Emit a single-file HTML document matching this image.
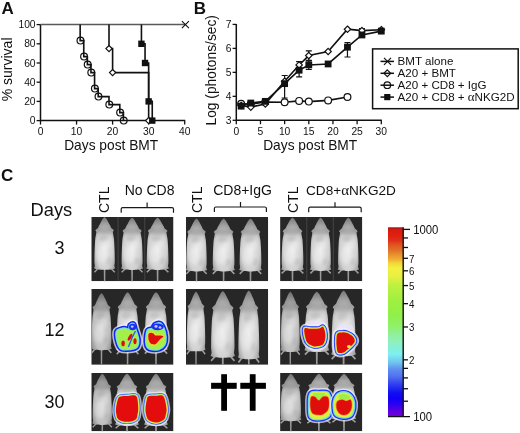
<!DOCTYPE html><html><head><meta charset="utf-8"><title>Figure</title><style>
html,body{margin:0;padding:0;background:#fff;width:520px;height:433px;overflow:hidden}
svg{display:block;will-change:transform} text{font-family:'Liberation Sans',sans-serif;fill:#111}
</style></head><body>
<svg width="520" height="433" viewBox="0 0 520 433">
<defs>
<radialGradient id="mg" cx="0.5" cy="0.6" r="0.6"><stop offset="0" stop-color="#e8e8e8"/><stop offset="0.65" stop-color="#d2d2d2"/><stop offset="1" stop-color="#9a9a9a"/></radialGradient>
<radialGradient id="mg2" cx="0.5" cy="0.6" r="0.6"><stop offset="0" stop-color="#d4d4d4"/><stop offset="0.65" stop-color="#c0c0c0"/><stop offset="1" stop-color="#8a8a8a"/></radialGradient>
<linearGradient id="mh" x1="0" y1="0" x2="0" y2="1"><stop offset="0" stop-color="#303030" stop-opacity="0.32"/><stop offset="0.18" stop-color="#505050" stop-opacity="0.2"/><stop offset="0.4" stop-color="#606060" stop-opacity="0"/></linearGradient>
<filter id="bl" x="-20%" y="-20%" width="140%" height="140%"><feGaussianBlur stdDeviation="0.65"/></filter>
<filter id="bh" x="-20%" y="-20%" width="140%" height="140%"><feGaussianBlur stdDeviation="0.6"/></filter>
<filter id="bt" x="-50%" y="-50%" width="200%" height="200%"><feGaussianBlur stdDeviation="1.6"/></filter>
<filter id="bl2" x="-20%" y="-20%" width="140%" height="140%"><feGaussianBlur stdDeviation="1.2"/></filter>
<linearGradient id="cb" x1="0" y1="0" x2="0" y2="1"><stop offset="0" stop-color="#a01010"/><stop offset="0.012" stop-color="#d81a10"/><stop offset="0.045" stop-color="#e02010"/><stop offset="0.07" stop-color="#e03018"/><stop offset="0.09" stop-color="#e05020"/><stop offset="0.12" stop-color="#e07028"/><stop offset="0.145" stop-color="#e89030"/><stop offset="0.17" stop-color="#f0b030"/><stop offset="0.19" stop-color="#f0d838"/><stop offset="0.215" stop-color="#f4f040"/><stop offset="0.26" stop-color="#e8f040"/><stop offset="0.305" stop-color="#c0f040"/><stop offset="0.385" stop-color="#a0f040"/><stop offset="0.465" stop-color="#90f048"/><stop offset="0.53" stop-color="#90f070"/><stop offset="0.57" stop-color="#90f0a0"/><stop offset="0.61" stop-color="#90f0c0"/><stop offset="0.65" stop-color="#80f0e0"/><stop offset="0.67" stop-color="#80f0f0"/><stop offset="0.715" stop-color="#70c4f0"/><stop offset="0.75" stop-color="#6090f0"/><stop offset="0.79" stop-color="#5070f0"/><stop offset="0.83" stop-color="#3040f0"/><stop offset="0.875" stop-color="#1010f0"/><stop offset="0.905" stop-color="#1000f8"/><stop offset="0.94" stop-color="#3000f0"/><stop offset="0.975" stop-color="#6000e0"/><stop offset="1" stop-color="#7000d8"/></linearGradient>
<path id="mouse" d="M0.4,0C0.8,0.26 1.37,0.71 2,1.59C2.63,2.47 3.53,4.15 4.2,5.3C4.87,6.45 5.53,7.6 6,8.48C6.47,9.36 6.53,10.03 7,10.6C7.47,11.17 8.33,11.48 8.8,11.93C9.27,12.37 9.8,12.81 9.8,13.25C9.8,13.69 8.93,14.05 8.8,14.58C8.67,15.11 8.82,15.33 9,16.43C9.18,17.53 9.68,19.52 9.9,21.2C10.12,22.88 10.18,24.56 10.3,26.5C10.42,28.44 10.52,30.65 10.6,32.86C10.68,35.07 10.77,37.63 10.8,39.75C10.83,41.87 10.87,44.08 10.8,45.58C10.73,47.08 10.4,47.97 10.4,48.76C10.4,49.56 10.67,49.91 10.8,50.35C10.93,50.79 11.4,51.13 11.2,51.41C11,51.69 10.3,51.85 9.6,52.05C8.9,52.24 8.27,52.42 7,52.58C5.73,52.73 3.5,52.93 2,53C0.5,53.07 -0.5,53.07 -2,53C-3.5,52.93 -5.73,52.73 -7,52.58C-8.27,52.42 -8.9,52.24 -9.6,52.05C-10.3,51.85 -11,51.69 -11.2,51.41C-11.4,51.13 -10.93,50.79 -10.8,50.35C-10.67,49.91 -10.4,49.56 -10.4,48.76C-10.4,47.97 -10.73,47.08 -10.8,45.58C-10.87,44.08 -10.83,41.87 -10.8,39.75C-10.77,37.63 -10.68,35.07 -10.6,32.86C-10.52,30.65 -10.42,28.44 -10.3,26.5C-10.18,24.56 -10.12,22.88 -9.9,21.2C-9.68,19.52 -9.18,17.53 -9,16.43C-8.82,15.33 -8.67,15.11 -8.8,14.58C-8.93,14.05 -9.8,13.69 -9.8,13.25C-9.8,12.81 -9.27,12.37 -8.8,11.93C-8.33,11.48 -7.47,11.17 -7,10.6C-6.53,10.03 -6.47,9.36 -6,8.48C-5.53,7.6 -4.87,6.45 -4.2,5.3C-3.53,4.15 -2.63,2.47 -2,1.59C-1.37,0.71 -0.8,0.26 -0.4,0C-0,-0.26 0,-0.26 0.4,0Z"/>
<clipPath id="mclip"><path d="M0.4,0C0.8,0.26 1.37,0.71 2,1.59C2.63,2.47 3.53,4.15 4.2,5.3C4.87,6.45 5.53,7.6 6,8.48C6.47,9.36 6.53,10.03 7,10.6C7.47,11.17 8.33,11.48 8.8,11.93C9.27,12.37 9.8,12.81 9.8,13.25C9.8,13.69 8.93,14.05 8.8,14.58C8.67,15.11 8.82,15.33 9,16.43C9.18,17.53 9.68,19.52 9.9,21.2C10.12,22.88 10.18,24.56 10.3,26.5C10.42,28.44 10.52,30.65 10.6,32.86C10.68,35.07 10.77,37.63 10.8,39.75C10.83,41.87 10.87,44.08 10.8,45.58C10.73,47.08 10.4,47.97 10.4,48.76C10.4,49.56 10.67,49.91 10.8,50.35C10.93,50.79 11.4,51.13 11.2,51.41C11,51.69 10.3,51.85 9.6,52.05C8.9,52.24 8.27,52.42 7,52.58C5.73,52.73 3.5,52.93 2,53C0.5,53.07 -0.5,53.07 -2,53C-3.5,52.93 -5.73,52.73 -7,52.58C-8.27,52.42 -8.9,52.24 -9.6,52.05C-10.3,51.85 -11,51.69 -11.2,51.41C-11.4,51.13 -10.93,50.79 -10.8,50.35C-10.67,49.91 -10.4,49.56 -10.4,48.76C-10.4,47.97 -10.73,47.08 -10.8,45.58C-10.87,44.08 -10.83,41.87 -10.8,39.75C-10.77,37.63 -10.68,35.07 -10.6,32.86C-10.52,30.65 -10.42,28.44 -10.3,26.5C-10.18,24.56 -10.12,22.88 -9.9,21.2C-9.68,19.52 -9.18,17.53 -9,16.43C-8.82,15.33 -8.67,15.11 -8.8,14.58C-8.93,14.05 -9.8,13.69 -9.8,13.25C-9.8,12.81 -9.27,12.37 -8.8,11.93C-8.33,11.48 -7.47,11.17 -7,10.6C-6.53,10.03 -6.47,9.36 -6,8.48C-5.53,7.6 -4.87,6.45 -4.2,5.3C-3.53,4.15 -2.63,2.47 -2,1.59C-1.37,0.71 -0.8,0.26 -0.4,0C-0,-0.26 0,-0.26 0.4,0Z"/></clipPath>
<g id="mtex"><ellipse cx="0" cy="13.5" rx="9" ry="3.5" fill="#6a6a6a" opacity="0.3"/><ellipse cx="-1" cy="21" rx="5" ry="3" fill="#7a7a7a" opacity="0.25"/><ellipse cx="-2.5" cy="37" rx="5.5" ry="9" fill="#fff" opacity="0.28"/><ellipse cx="3.5" cy="27" rx="3.5" ry="5" fill="#fff" opacity="0.22"/><ellipse cx="5" cy="44" rx="3" ry="4" fill="#8a8a8a" opacity="0.2"/></g>
</defs>
<text x="1.4" y="13.6" style="font-weight:bold;font-size:17px">A</text>
<text x="1.6" y="13.6" transform="translate(2000,0)"> </text>
<path d="M40.5,24.3V120.6H185.2" fill="none" stroke="#111" stroke-width="1.5"/>
<path d="M36.6,120.6H40.5" stroke="#111" stroke-width="1.3"/>
<text x="35.6" y="124.1" text-anchor="end" style="font-size:10.3px">0</text>
<path d="M36.6,101.4H40.5" stroke="#111" stroke-width="1.3"/>
<text x="35.6" y="104.9" text-anchor="end" style="font-size:10.3px">20</text>
<path d="M36.6,82.2H40.5" stroke="#111" stroke-width="1.3"/>
<text x="35.6" y="85.7" text-anchor="end" style="font-size:10.3px">40</text>
<path d="M36.6,63H40.5" stroke="#111" stroke-width="1.3"/>
<text x="35.6" y="66.5" text-anchor="end" style="font-size:10.3px">60</text>
<path d="M36.6,43.8H40.5" stroke="#111" stroke-width="1.3"/>
<text x="35.6" y="47.3" text-anchor="end" style="font-size:10.3px">80</text>
<path d="M36.6,24.6H40.5" stroke="#111" stroke-width="1.3"/>
<text x="35.6" y="28.1" text-anchor="end" style="font-size:10.3px">100</text>
<path d="M40.5,120.6V124.6" stroke="#111" stroke-width="1.3"/>
<text x="40.5" y="134.6" text-anchor="middle" style="font-size:10.3px">0</text>
<path d="M76.55,120.6V124.6" stroke="#111" stroke-width="1.3"/>
<text x="76.55" y="134.6" text-anchor="middle" style="font-size:10.3px">10</text>
<path d="M112.6,120.6V124.6" stroke="#111" stroke-width="1.3"/>
<text x="112.6" y="134.6" text-anchor="middle" style="font-size:10.3px">20</text>
<path d="M148.65,120.6V124.6" stroke="#111" stroke-width="1.3"/>
<text x="148.65" y="134.6" text-anchor="middle" style="font-size:10.3px">30</text>
<path d="M184.7,120.6V124.6" stroke="#111" stroke-width="1.3"/>
<text x="184.7" y="134.6" text-anchor="middle" style="font-size:10.3px">40</text>
<text x="64.2" y="150.4" style="font-size:13.75px">Days post BMT</text>
<text transform="translate(11.6,101.3) rotate(-90)" style="font-size:14px">% survival</text>
<path d="M40.5,24.6H185.3" stroke="#5a5a5a" stroke-width="1.5" fill="none"/>
<path d="M181.9,21.1l7,7M181.9,28.1l7,-7" stroke="#111" stroke-width="1.1"/>
<path d="M80.16,24.6H80.16V40.6H83.76V56.6H87.37V64.6H90.97V72.6H94.58V88.6H98.18V96.6H109V104.6H119.81V112.6H123.42V120.6" stroke="#111" stroke-width="1.6" fill="none"/>
<circle cx="80.45" cy="40.6" r="3.4" fill="none" stroke="#111" stroke-width="1.2"/>
<circle cx="84.06" cy="56.6" r="3.4" fill="none" stroke="#111" stroke-width="1.2"/>
<circle cx="87.67" cy="64.6" r="3.4" fill="none" stroke="#111" stroke-width="1.2"/>
<circle cx="91.27" cy="72.6" r="3.4" fill="none" stroke="#111" stroke-width="1.2"/>
<circle cx="94.88" cy="88.6" r="3.4" fill="none" stroke="#111" stroke-width="1.2"/>
<circle cx="98.48" cy="96.6" r="3.4" fill="none" stroke="#111" stroke-width="1.2"/>
<circle cx="109.3" cy="104.6" r="3.4" fill="none" stroke="#111" stroke-width="1.2"/>
<circle cx="120.11" cy="112.6" r="3.4" fill="none" stroke="#111" stroke-width="1.2"/>
<circle cx="123.72" cy="120.6" r="3.4" fill="none" stroke="#111" stroke-width="1.2"/>
<path d="M109,24.6H109V48.6H112.6V72.6H148.65V120.6" stroke="#111" stroke-width="1.6" fill="none"/>
<path d="M109,45.5l3.1,3.1l-3.1,3.1l-3.1,-3.1z" fill="#fff" stroke="#111" stroke-width="1.2"/>
<path d="M112.6,69.5l3.1,3.1l-3.1,3.1l-3.1,-3.1z" fill="#fff" stroke="#111" stroke-width="1.2"/>
<path d="M148.65,117.5l3.1,3.1l-3.1,3.1l-3.1,-3.1z" fill="#fff" stroke="#111" stroke-width="1.2"/>
<path d="M141.44,24.6H141.44V43.8H145.05V63H148.65V101.4H152.25V120.6" stroke="#111" stroke-width="1.6" fill="none"/>
<rect x="138.24" y="40.6" width="6.4" height="6.4" fill="#111"/>
<rect x="141.85" y="59.8" width="6.4" height="6.4" fill="#111"/>
<rect x="145.45" y="98.2" width="6.4" height="6.4" fill="#111"/>
<rect x="149.06" y="117.4" width="6.4" height="6.4" fill="#111"/>
<text x="193.8" y="13.6" style="font-weight:bold;font-size:17px">B</text>
<path d="M236.3,24.12V120.3H381.79" fill="none" stroke="#111" stroke-width="1.5"/>
<path d="M232.6,120.3H236.3" stroke="#111" stroke-width="1.3"/>
<text x="231.4" y="123.8" text-anchor="end" style="font-size:10.3px">3</text>
<path d="M232.6,96.33H236.3" stroke="#111" stroke-width="1.3"/>
<text x="231.4" y="99.83" text-anchor="end" style="font-size:10.3px">4</text>
<path d="M232.6,72.36H236.3" stroke="#111" stroke-width="1.3"/>
<text x="231.4" y="75.86" text-anchor="end" style="font-size:10.3px">5</text>
<path d="M232.6,48.39H236.3" stroke="#111" stroke-width="1.3"/>
<text x="231.4" y="51.89" text-anchor="end" style="font-size:10.3px">6</text>
<path d="M232.6,24.42H236.3" stroke="#111" stroke-width="1.3"/>
<text x="231.4" y="27.92" text-anchor="end" style="font-size:10.3px">7</text>
<path d="M236.3,120.3V124.2" stroke="#111" stroke-width="1.3"/>
<text x="236.3" y="134.7" text-anchor="middle" style="font-size:10.3px">0</text>
<path d="M260.47,120.3V124.2" stroke="#111" stroke-width="1.3"/>
<text x="260.47" y="134.7" text-anchor="middle" style="font-size:10.3px">5</text>
<path d="M284.63,120.3V124.2" stroke="#111" stroke-width="1.3"/>
<text x="284.63" y="134.7" text-anchor="middle" style="font-size:10.3px">10</text>
<path d="M308.8,120.3V124.2" stroke="#111" stroke-width="1.3"/>
<text x="308.8" y="134.7" text-anchor="middle" style="font-size:10.3px">15</text>
<path d="M332.96,120.3V124.2" stroke="#111" stroke-width="1.3"/>
<text x="332.96" y="134.7" text-anchor="middle" style="font-size:10.3px">20</text>
<path d="M357.12,120.3V124.2" stroke="#111" stroke-width="1.3"/>
<text x="357.12" y="134.7" text-anchor="middle" style="font-size:10.3px">25</text>
<path d="M381.29,120.3V124.2" stroke="#111" stroke-width="1.3"/>
<text x="381.29" y="134.7" text-anchor="middle" style="font-size:10.3px">30</text>
<text x="263.2" y="150.4" style="font-size:13.75px">Days post BMT</text>
<text transform="translate(215.9,125.5) rotate(-90)" style="font-size:13.8px">Log (photons/sec)</text>
<path d="M284.63,75.48V98.01M281.63,75.48h6M281.63,98.01h6" stroke="#111" stroke-width="1.2" fill="none"/>
<path d="M299.13,61.57V76.91M296.13,61.57h6M296.13,76.91h6" stroke="#111" stroke-width="1.2" fill="none"/>
<path d="M308.8,50.79V60.38M305.8,50.79h6M305.8,60.38h6" stroke="#111" stroke-width="1.2" fill="none"/>
<path d="M308.8,60.85V69.48M305.8,60.85h6M305.8,69.48h6" stroke="#111" stroke-width="1.2" fill="none"/>
<path d="M347.46,42.64V57.02M344.46,42.64h6M344.46,57.02h6" stroke="#111" stroke-width="1.2" fill="none"/>
<path d="M361.96,28.49V34.97M358.96,28.49h6M358.96,34.97h6" stroke="#111" stroke-width="1.2" fill="none"/>
<path d="M241.13,103.76L250.8,104L265.3,102.08L284.63,102.32L299.13,100.88L308.8,101.6L328.13,100.4L347.46,97.05" stroke="#111" stroke-width="1.6" fill="none"/>
<path d="M241.13,105.44L250.8,107.12L265.3,104L284.63,81.23L299.13,64.93L308.8,55.58L328.13,51.51L347.46,29.21L361.96,30.65L381.29,29.69" stroke="#111" stroke-width="1.6" fill="none"/>
<path d="M241.13,106.16L250.8,103.04L265.3,101.36L284.63,83.63L299.13,70.2L308.8,64.93L328.13,63.97L347.46,47.19L361.96,34.97L381.29,31.13" stroke="#111" stroke-width="1.6" fill="none"/>
<circle cx="241.13" cy="103.76" r="3.4" fill="#fff" stroke="#111" stroke-width="1.2"/>
<circle cx="250.8" cy="104" r="3.4" fill="#fff" stroke="#111" stroke-width="1.2"/>
<circle cx="265.3" cy="102.08" r="3.4" fill="#fff" stroke="#111" stroke-width="1.2"/>
<circle cx="284.63" cy="102.32" r="3.4" fill="#fff" stroke="#111" stroke-width="1.2"/>
<circle cx="299.13" cy="100.88" r="3.4" fill="#fff" stroke="#111" stroke-width="1.2"/>
<circle cx="308.8" cy="101.6" r="3.4" fill="#fff" stroke="#111" stroke-width="1.2"/>
<circle cx="328.13" cy="100.4" r="3.4" fill="#fff" stroke="#111" stroke-width="1.2"/>
<circle cx="347.46" cy="97.05" r="3.4" fill="#fff" stroke="#111" stroke-width="1.2"/>
<path d="M241.13,102.24l3.2,3.2l-3.2,3.2l-3.2,-3.2z" fill="#fff" stroke="#111" stroke-width="1.2"/>
<path d="M250.8,103.92l3.2,3.2l-3.2,3.2l-3.2,-3.2z" fill="#fff" stroke="#111" stroke-width="1.2"/>
<path d="M265.3,100.8l3.2,3.2l-3.2,3.2l-3.2,-3.2z" fill="#fff" stroke="#111" stroke-width="1.2"/>
<path d="M284.63,78.03l3.2,3.2l-3.2,3.2l-3.2,-3.2z" fill="#fff" stroke="#111" stroke-width="1.2"/>
<path d="M299.13,61.73l3.2,3.2l-3.2,3.2l-3.2,-3.2z" fill="#fff" stroke="#111" stroke-width="1.2"/>
<path d="M308.8,52.38l3.2,3.2l-3.2,3.2l-3.2,-3.2z" fill="#fff" stroke="#111" stroke-width="1.2"/>
<path d="M328.13,48.31l3.2,3.2l-3.2,3.2l-3.2,-3.2z" fill="#fff" stroke="#111" stroke-width="1.2"/>
<path d="M347.46,26.01l3.2,3.2l-3.2,3.2l-3.2,-3.2z" fill="#fff" stroke="#111" stroke-width="1.2"/>
<path d="M361.96,27.45l3.2,3.2l-3.2,3.2l-3.2,-3.2z" fill="#fff" stroke="#111" stroke-width="1.2"/>
<path d="M381.29,26.49l3.2,3.2l-3.2,3.2l-3.2,-3.2z" fill="#fff" stroke="#111" stroke-width="1.2"/>
<rect x="237.73" y="102.76" width="6.8" height="6.8" fill="#111"/>
<rect x="247.4" y="99.64" width="6.8" height="6.8" fill="#111"/>
<rect x="261.9" y="97.96" width="6.8" height="6.8" fill="#111"/>
<rect x="281.23" y="80.23" width="6.8" height="6.8" fill="#111"/>
<rect x="295.73" y="66.8" width="6.8" height="6.8" fill="#111"/>
<rect x="305.4" y="61.53" width="6.8" height="6.8" fill="#111"/>
<rect x="324.73" y="60.57" width="6.8" height="6.8" fill="#111"/>
<rect x="344.06" y="43.79" width="6.8" height="6.8" fill="#111"/>
<rect x="358.56" y="31.57" width="6.8" height="6.8" fill="#111"/>
<rect x="377.89" y="27.73" width="6.8" height="6.8" fill="#111"/>
<rect x="372.6" y="48.9" width="145.6" height="59.8" fill="#fff" stroke="#111" stroke-width="1.5"/>
<path d="M380.5,61.4H394" stroke="#111" stroke-width="1.5"/>
<path d="M384,57.9l7,7M384,64.9l7,-7" stroke="#111" stroke-width="1.2"/>
<text x="397.6" y="65.4" style="font-size:11.6px">BMT alone</text>
<path d="M380.5,73.3H394" stroke="#111" stroke-width="1.5"/>
<path d="M387.3,69.9l3.4,3.4l-3.4,3.4l-3.4,-3.4z" fill="none" stroke="#111" stroke-width="1.2"/>
<text x="397.6" y="77.3" style="font-size:11.6px">A20 + BMT</text>
<path d="M380.5,85.2H394" stroke="#111" stroke-width="1.5"/>
<circle cx="387.3" cy="85.2" r="3.3" fill="none" stroke="#111" stroke-width="1.2"/>
<text x="397.6" y="89.2" style="font-size:11.6px">A20 + CD8 + IgG</text>
<path d="M380.5,97.1H394" stroke="#111" stroke-width="1.5"/>
<rect x="384.2" y="94" width="6.2" height="6.2" fill="#111"/>
<text x="397.6" y="101.1" style="font-size:11.6px">A20 + CD8 + <tspan style="font-family:'Liberation Serif',serif;font-size:12.9px">&#945;</tspan>NKG2D</text>
<text x="1.0" y="181.2" style="font-weight:bold;font-size:17px">C</text>
<text x="30.6" y="215.8" style="font-size:18.3px">Days</text>
<text x="59.6" y="254.2" text-anchor="middle" style="font-size:18px">3</text>
<text x="54.4" y="335.9" text-anchor="middle" style="font-size:18px">12</text>
<text x="54.4" y="408.3" text-anchor="middle" style="font-size:18px">30</text>
<text transform="translate(109.4,213.0) rotate(-90)" style="font-size:14px">CTL</text>
<text x="124.7" y="195" style="font-size:14px">No CD8</text>
<text transform="translate(202.2,213.0) rotate(-90)" style="font-size:14px">CTL</text>
<text x="213.2" y="195" style="font-size:14px">CD8+IgG</text>
<text transform="translate(298.2,213.0) rotate(-90)" style="font-size:14px">CTL</text>
<text x="306" y="195" style="font-size:13.6px">CD8+<tspan style="font-family:'Liberation Serif',serif;font-size:15px">&#945;</tspan>NKG2D</text>
<path d="M121.2,212.7v-3.6q0,-1.5 1.5,-1.5H172q1.5,0 1.5,1.5v3.6M147.1,207.6v-5" fill="none" stroke="#1a1a1a" stroke-width="1.2"/>
<path d="M214.4,212.1v-3.6q0,-1.5 1.5,-1.5H264.9q1.5,0 1.5,1.5v3.6M240.5,207v-5" fill="none" stroke="#1a1a1a" stroke-width="1.2"/>
<path d="M308.7,212.3v-3.6q0,-1.5 1.5,-1.5H359.7q1.5,0 1.5,1.5v3.6M335,207.2v-5" fill="none" stroke="#1a1a1a" stroke-width="1.2"/>
<clipPath id="c00"><rect x="91.3" y="217" width="82.2" height="64.2"/></clipPath>
<g clip-path="url(#c00)">
<rect x="91.3" y="217" width="82.2" height="64.2" fill="#272727"/>
<path d="M118.1,217V281.2" stroke="#454545" stroke-width="1"/>
<path d="M144.8,217V281.2" stroke="#454545" stroke-width="1"/>
<g filter="url(#bl)">
<g transform="translate(104.6,217.4) scale(0.94,0.99)"><path d="M-0.9,52 L-0.7,66 L0.7,66 L0.9,52Z" fill="#9a9a9a"/><path d="M6.5,51.2L10.8,55.4M-6.5,51.2L-10.8,55.4" stroke="#a0a0a0" stroke-width="1.5" fill="none"/><use href="#mouse" fill="url(#mg)"/><use href="#mouse" fill="url(#mh)"/><g clip-path="url(#mclip)"><use href="#mtex" filter="url(#bt)"/></g></g>
<g transform="translate(132.1,218) scale(0.97,0.98)"><path d="M-0.9,52 L-0.7,66 L0.7,66 L0.9,52Z" fill="#9a9a9a"/><path d="M6.5,51.2L10.8,55.4M-6.5,51.2L-10.8,55.4" stroke="#a0a0a0" stroke-width="1.5" fill="none"/><use href="#mouse" fill="url(#mg)"/><use href="#mouse" fill="url(#mh)"/><g clip-path="url(#mclip)"><use href="#mtex" filter="url(#bt)"/></g></g>
<g transform="translate(157.6,218) scale(1,0.98)"><path d="M-0.9,52 L-0.7,66 L0.7,66 L0.9,52Z" fill="#9a9a9a"/><path d="M6.5,51.2L10.8,55.4M-6.5,51.2L-10.8,55.4" stroke="#a0a0a0" stroke-width="1.5" fill="none"/><use href="#mouse" fill="url(#mg)"/><use href="#mouse" fill="url(#mh)"/><g clip-path="url(#mclip)"><use href="#mtex" filter="url(#bt)"/></g></g>
</g>

</g>
<clipPath id="c01"><rect x="186" y="217" width="82.2" height="64.2"/></clipPath>
<g clip-path="url(#c01)">
<rect x="186" y="217" width="82.2" height="64.2" fill="#272727"/>
<g filter="url(#bl)">
<g transform="translate(196.5,219) scale(0.94,0.99)"><path d="M-0.9,52 L-0.7,66 L0.7,66 L0.9,52Z" fill="#9a9a9a"/><path d="M6.5,51.2L10.8,55.4M-6.5,51.2L-10.8,55.4" stroke="#a0a0a0" stroke-width="1.5" fill="none"/><use href="#mouse" fill="url(#mg)"/><use href="#mouse" fill="url(#mh)"/><g clip-path="url(#mclip)"><use href="#mtex" filter="url(#bt)"/></g></g>
<g transform="translate(223.6,219) scale(1,0.99)"><path d="M-0.9,52 L-0.7,66 L0.7,66 L0.9,52Z" fill="#9a9a9a"/><path d="M6.5,51.2L10.8,55.4M-6.5,51.2L-10.8,55.4" stroke="#a0a0a0" stroke-width="1.5" fill="none"/><use href="#mouse" fill="url(#mg)"/><use href="#mouse" fill="url(#mh)"/><g clip-path="url(#mclip)"><use href="#mtex" filter="url(#bt)"/></g></g>
<g transform="translate(250.5,219) scale(1,0.99)"><path d="M-0.9,52 L-0.7,66 L0.7,66 L0.9,52Z" fill="#9a9a9a"/><path d="M6.5,51.2L10.8,55.4M-6.5,51.2L-10.8,55.4" stroke="#a0a0a0" stroke-width="1.5" fill="none"/><use href="#mouse" fill="url(#mg)"/><use href="#mouse" fill="url(#mh)"/><g clip-path="url(#mclip)"><use href="#mtex" filter="url(#bt)"/></g></g>
</g>

</g>
<clipPath id="c02"><rect x="280.1" y="217" width="82.2" height="64.2"/></clipPath>
<g clip-path="url(#c02)">
<rect x="280.1" y="217" width="82.2" height="64.2" fill="#272727"/>
<path d="M306.8,217V281.2" stroke="#454545" stroke-width="1"/>
<path d="M333.3,217V281.2" stroke="#454545" stroke-width="1"/>
<g filter="url(#bl)">
<g transform="translate(292.5,218) scale(1,1)"><path d="M-0.9,52 L-0.7,66 L0.7,66 L0.9,52Z" fill="#9a9a9a"/><path d="M6.5,51.2L10.8,55.4M-6.5,51.2L-10.8,55.4" stroke="#a0a0a0" stroke-width="1.5" fill="none"/><use href="#mouse" fill="url(#mg)"/><use href="#mouse" fill="url(#mh)"/><g clip-path="url(#mclip)"><use href="#mtex" filter="url(#bt)"/></g></g>
<g transform="translate(320.6,218) scale(0.94,1)"><path d="M-0.9,52 L-0.7,66 L0.7,66 L0.9,52Z" fill="#9a9a9a"/><path d="M6.5,51.2L10.8,55.4M-6.5,51.2L-10.8,55.4" stroke="#a0a0a0" stroke-width="1.5" fill="none"/><use href="#mouse" fill="url(#mg)"/><use href="#mouse" fill="url(#mh)"/><g clip-path="url(#mclip)"><use href="#mtex" filter="url(#bt)"/></g></g>
<g transform="translate(348.3,218) scale(0.94,1)"><path d="M-0.9,52 L-0.7,66 L0.7,66 L0.9,52Z" fill="#9a9a9a"/><path d="M6.5,51.2L10.8,55.4M-6.5,51.2L-10.8,55.4" stroke="#a0a0a0" stroke-width="1.5" fill="none"/><use href="#mouse" fill="url(#mg)"/><use href="#mouse" fill="url(#mh)"/><g clip-path="url(#mclip)"><use href="#mtex" filter="url(#bt)"/></g></g>
</g>

</g>
<clipPath id="c10"><rect x="91.3" y="289" width="82.2" height="75.8"/></clipPath>
<g clip-path="url(#c10)">
<rect x="91.3" y="289" width="82.2" height="75.8" fill="#272727"/>
<g filter="url(#bl)">
<g transform="translate(101.5,293.6) scale(0.91,1.07)"><path d="M-0.9,52 L-0.7,66 L0.7,66 L0.9,52Z" fill="#9a9a9a"/><path d="M6.5,51.2L10.8,55.4M-6.5,51.2L-10.8,55.4" stroke="#a0a0a0" stroke-width="1.5" fill="none"/><use href="#mouse" fill="url(#mg2)"/><use href="#mouse" fill="url(#mh)"/><g clip-path="url(#mclip)"><use href="#mtex" filter="url(#bt)"/></g></g>
<g transform="translate(127.6,292.6) scale(1,1.11)"><path d="M-0.9,52 L-0.7,66 L0.7,66 L0.9,52Z" fill="#9a9a9a"/><path d="M6.5,51.2L10.8,55.4M-6.5,51.2L-10.8,55.4" stroke="#a0a0a0" stroke-width="1.5" fill="none"/><use href="#mouse" fill="url(#mg)"/><use href="#mouse" fill="url(#mh)"/><g clip-path="url(#mclip)"><use href="#mtex" filter="url(#bt)"/></g></g>
<g transform="translate(156,292.6) scale(1.03,1.1)"><path d="M-0.9,52 L-0.7,66 L0.7,66 L0.9,52Z" fill="#9a9a9a"/><path d="M6.5,51.2L10.8,55.4M-6.5,51.2L-10.8,55.4" stroke="#a0a0a0" stroke-width="1.5" fill="none"/><use href="#mouse" fill="url(#mg)"/><use href="#mouse" fill="url(#mh)"/><g clip-path="url(#mclip)"><use href="#mtex" filter="url(#bt)"/></g></g>
</g>
<g filter="url(#bh)"><path d="M116.6,332C117.12,329.9 119.22,329.77 120.7,329.2C122.18,328.63 124.1,328.43 125.5,328.6C126.9,328.77 128.35,330.77 129.1,330.2C129.85,329.63 129.25,326.23 130,325.2C130.75,324.17 132.7,323.23 133.6,324C134.5,324.77 134.63,327.22 135.4,329.8C136.17,332.38 138,336.63 138.2,339.5C138.4,342.37 137.92,345.42 136.6,347C135.28,348.58 132.85,348.73 130.3,349C127.75,349.27 123.42,349.8 121.3,348.6C119.18,347.4 118.38,344.57 117.6,341.8C116.82,339.03 116.08,334.1 116.6,332Z" fill="none" stroke="#f2eefc" stroke-width="8.5" stroke-linejoin="round" opacity="0.75"/><path d="M116.6,332C117.12,329.9 119.22,329.77 120.7,329.2C122.18,328.63 124.1,328.43 125.5,328.6C126.9,328.77 128.35,330.77 129.1,330.2C129.85,329.63 129.25,326.23 130,325.2C130.75,324.17 132.7,323.23 133.6,324C134.5,324.77 134.63,327.22 135.4,329.8C136.17,332.38 138,336.63 138.2,339.5C138.4,342.37 137.92,345.42 136.6,347C135.28,348.58 132.85,348.73 130.3,349C127.75,349.27 123.42,349.8 121.3,348.6C119.18,347.4 118.38,344.57 117.6,341.8C116.82,339.03 116.08,334.1 116.6,332Z" fill="none" stroke="#1424ee" stroke-width="5.4" stroke-linejoin="round"/><path d="M116.6,332C117.12,329.9 119.22,329.77 120.7,329.2C122.18,328.63 124.1,328.43 125.5,328.6C126.9,328.77 128.35,330.77 129.1,330.2C129.85,329.63 129.25,326.23 130,325.2C130.75,324.17 132.7,323.23 133.6,324C134.5,324.77 134.63,327.22 135.4,329.8C136.17,332.38 138,336.63 138.2,339.5C138.4,342.37 137.92,345.42 136.6,347C135.28,348.58 132.85,348.73 130.3,349C127.75,349.27 123.42,349.8 121.3,348.6C119.18,347.4 118.38,344.57 117.6,341.8C116.82,339.03 116.08,334.1 116.6,332Z" fill="none" stroke="#70e0e0" stroke-width="2.4" stroke-linejoin="round"/><path d="M116.6,332C117.12,329.9 119.22,329.77 120.7,329.2C122.18,328.63 124.1,328.43 125.5,328.6C126.9,328.77 128.35,330.77 129.1,330.2C129.85,329.63 129.25,326.23 130,325.2C130.75,324.17 132.7,323.23 133.6,324C134.5,324.77 134.63,327.22 135.4,329.8C136.17,332.38 138,336.63 138.2,339.5C138.4,342.37 137.92,345.42 136.6,347C135.28,348.58 132.85,348.73 130.3,349C127.75,349.27 123.42,349.8 121.3,348.6C119.18,347.4 118.38,344.57 117.6,341.8C116.82,339.03 116.08,334.1 116.6,332Z" fill="#a4f04c"/><ellipse cx="132.6" cy="327" rx="3.6" ry="3.2" fill="#1830f0"/><ellipse cx="132.2" cy="326.6" rx="1.4" ry="1.2" fill="#c8c0f8"/><path d="M128.4,347L132.6,336.6L135.5,331" stroke="#3060f0" stroke-width="1.4" fill="none"/><ellipse cx="123.1" cy="343.4" rx="1.8" ry="2.8" fill="#e01010"/><ellipse cx="130" cy="337.2" rx="1.5" ry="3.8" fill="#e01010" transform="rotate(30 130 337.2)"/><ellipse cx="135" cy="341.2" rx="1.6" ry="3" fill="#e01010"/><path d="M146.2,338.3C146.4,335.83 146.78,331.82 147.8,330.2C148.82,328.58 151.1,329.53 152.3,328.6C153.5,327.67 153.7,325.47 155,324.6C156.3,323.73 158.7,322.83 160.1,323.4C161.5,323.97 162.48,325.72 163.4,328C164.32,330.28 165.43,334.33 165.6,337.1C165.77,339.87 165.52,342.62 164.4,344.6C163.28,346.58 161.42,348.33 158.9,349C156.38,349.67 151.35,349.27 149.3,348.6C147.25,347.93 147.12,346.72 146.6,345C146.08,343.28 146,340.77 146.2,338.3Z" fill="none" stroke="#f2eefc" stroke-width="8.5" stroke-linejoin="round" opacity="0.75"/><path d="M146.2,338.3C146.4,335.83 146.78,331.82 147.8,330.2C148.82,328.58 151.1,329.53 152.3,328.6C153.5,327.67 153.7,325.47 155,324.6C156.3,323.73 158.7,322.83 160.1,323.4C161.5,323.97 162.48,325.72 163.4,328C164.32,330.28 165.43,334.33 165.6,337.1C165.77,339.87 165.52,342.62 164.4,344.6C163.28,346.58 161.42,348.33 158.9,349C156.38,349.67 151.35,349.27 149.3,348.6C147.25,347.93 147.12,346.72 146.6,345C146.08,343.28 146,340.77 146.2,338.3Z" fill="none" stroke="#1424ee" stroke-width="5.4" stroke-linejoin="round"/><path d="M146.2,338.3C146.4,335.83 146.78,331.82 147.8,330.2C148.82,328.58 151.1,329.53 152.3,328.6C153.5,327.67 153.7,325.47 155,324.6C156.3,323.73 158.7,322.83 160.1,323.4C161.5,323.97 162.48,325.72 163.4,328C164.32,330.28 165.43,334.33 165.6,337.1C165.77,339.87 165.52,342.62 164.4,344.6C163.28,346.58 161.42,348.33 158.9,349C156.38,349.67 151.35,349.27 149.3,348.6C147.25,347.93 147.12,346.72 146.6,345C146.08,343.28 146,340.77 146.2,338.3Z" fill="none" stroke="#70e0e0" stroke-width="2.4" stroke-linejoin="round"/><path d="M146.2,338.3C146.4,335.83 146.78,331.82 147.8,330.2C148.82,328.58 151.1,329.53 152.3,328.6C153.5,327.67 153.7,325.47 155,324.6C156.3,323.73 158.7,322.83 160.1,323.4C161.5,323.97 162.48,325.72 163.4,328C164.32,330.28 165.43,334.33 165.6,337.1C165.77,339.87 165.52,342.62 164.4,344.6C163.28,346.58 161.42,348.33 158.9,349C156.38,349.67 151.35,349.27 149.3,348.6C147.25,347.93 147.12,346.72 146.6,345C146.08,343.28 146,340.77 146.2,338.3Z" fill="#a4f04c"/><ellipse cx="157.6" cy="326.8" rx="6.2" ry="3.4" fill="#1830f0"/><ellipse cx="156" cy="326.4" rx="1.6" ry="1.3" fill="#c8c0f8"/><ellipse cx="160" cy="327.4" rx="1.4" ry="1.2" fill="#c8c0f8"/><path d="M148.4,334.6C148.73,333.48 149.77,333 150.6,332.8C151.43,332.6 152.6,332.97 153.4,333.4C154.2,333.83 154.37,335.03 155.4,335.4C156.43,335.77 158.27,335.43 159.6,335.6C160.93,335.77 163.27,335.83 163.4,336.4C163.53,336.97 161.57,337.83 160.4,339C159.23,340.17 157.53,342.5 156.4,343.4C155.27,344.3 154.6,344.43 153.6,344.4C152.6,344.37 151.23,344.02 150.4,343.2C149.57,342.38 148.93,340.93 148.6,339.5C148.27,338.07 148.07,335.72 148.4,334.6Z" fill="none" stroke="#f0d838" stroke-width="2.4" stroke-linejoin="round"/><path d="M148.4,334.6C148.73,333.48 149.77,333 150.6,332.8C151.43,332.6 152.6,332.97 153.4,333.4C154.2,333.83 154.37,335.03 155.4,335.4C156.43,335.77 158.27,335.43 159.6,335.6C160.93,335.77 163.27,335.83 163.4,336.4C163.53,336.97 161.57,337.83 160.4,339C159.23,340.17 157.53,342.5 156.4,343.4C155.27,344.3 154.6,344.43 153.6,344.4C152.6,344.37 151.23,344.02 150.4,343.2C149.57,342.38 148.93,340.93 148.6,339.5C148.27,338.07 148.07,335.72 148.4,334.6Z" fill="#e01010"/></g>
</g>
<clipPath id="c11"><rect x="186" y="289" width="82.2" height="75.8"/></clipPath>
<g clip-path="url(#c11)">
<rect x="186" y="289" width="82.2" height="75.8" fill="#272727"/>
<g filter="url(#bl)">
<g transform="translate(196,292) scale(0.85,1.12)"><path d="M-0.9,52 L-0.7,66 L0.7,66 L0.9,52Z" fill="#9a9a9a"/><path d="M6.5,51.2L10.8,55.4M-6.5,51.2L-10.8,55.4" stroke="#a0a0a0" stroke-width="1.5" fill="none"/><use href="#mouse" fill="url(#mg)"/><use href="#mouse" fill="url(#mh)"/><g clip-path="url(#mclip)"><use href="#mtex" filter="url(#bt)"/></g></g>
<g transform="translate(222.8,291.6) scale(1.08,1.25)"><path d="M-0.9,52 L-0.7,66 L0.7,66 L0.9,52Z" fill="#9a9a9a"/><path d="M6.5,51.2L10.8,55.4M-6.5,51.2L-10.8,55.4" stroke="#a0a0a0" stroke-width="1.5" fill="none"/><use href="#mouse" fill="url(#mg)"/><use href="#mouse" fill="url(#mh)"/><g clip-path="url(#mclip)"><use href="#mtex" filter="url(#bt)"/></g></g>
<g transform="translate(248.8,291) scale(0.96,1.29)"><path d="M-0.9,52 L-0.7,66 L0.7,66 L0.9,52Z" fill="#9a9a9a"/><path d="M6.5,51.2L10.8,55.4M-6.5,51.2L-10.8,55.4" stroke="#a0a0a0" stroke-width="1.5" fill="none"/><use href="#mouse" fill="url(#mg)"/><use href="#mouse" fill="url(#mh)"/><g clip-path="url(#mclip)"><use href="#mtex" filter="url(#bt)"/></g></g>
</g>

</g>
<clipPath id="c12"><rect x="280.1" y="289" width="82.2" height="75.8"/></clipPath>
<g clip-path="url(#c12)">
<rect x="280.1" y="289" width="82.2" height="75.8" fill="#272727"/>
<g filter="url(#bl)">
<g transform="translate(290.3,292) scale(0.87,1.13)"><path d="M-0.9,52 L-0.7,66 L0.7,66 L0.9,52Z" fill="#9a9a9a"/><path d="M6.5,51.2L10.8,55.4M-6.5,51.2L-10.8,55.4" stroke="#a0a0a0" stroke-width="1.5" fill="none"/><use href="#mouse" fill="url(#mg2)"/><use href="#mouse" fill="url(#mh)"/><g clip-path="url(#mclip)"><use href="#mtex" filter="url(#bt)"/></g></g>
<g transform="translate(316.8,292) scale(1.1,1.13)"><path d="M-0.9,52 L-0.7,66 L0.7,66 L0.9,52Z" fill="#9a9a9a"/><path d="M6.5,51.2L10.8,55.4M-6.5,51.2L-10.8,55.4" stroke="#a0a0a0" stroke-width="1.5" fill="none"/><use href="#mouse" fill="url(#mg)"/><use href="#mouse" fill="url(#mh)"/><g clip-path="url(#mclip)"><use href="#mtex" filter="url(#bt)"/></g></g>
<g transform="translate(343.6,291) scale(1.1,1.23)"><path d="M-0.9,52 L-0.7,66 L0.7,66 L0.9,52Z" fill="#9a9a9a"/><path d="M6.5,51.2L10.8,55.4M-6.5,51.2L-10.8,55.4" stroke="#a0a0a0" stroke-width="1.5" fill="none"/><use href="#mouse" fill="url(#mg)"/><use href="#mouse" fill="url(#mh)"/><g clip-path="url(#mclip)"><use href="#mtex" filter="url(#bt)"/></g></g>
</g>
<g filter="url(#bh)"><path d="M306,322C307.67,320.42 313,320.5 316,320.5C319,320.5 322.67,320.42 324,322C325.33,323.58 327,328.67 324,330C321,331.33 309,331.33 306,330C303,328.67 304.33,323.58 306,322Z" fill="#ece4f8" opacity="0.7"/><path d="M338,326C339.33,324 343.5,322.83 346,323C348.5,323.17 351.83,325 353,327C354.17,329 355.5,333.67 353,335C350.5,336.33 340.5,336.5 338,335C335.5,333.5 336.67,328 338,326Z" fill="#ece4f8" opacity="0.7"/><path d="M304.6,328.4C305.57,327.05 308.62,328.77 311,328.8C313.38,328.83 316.87,328.9 318.9,328.6C320.93,328.3 322.12,326.02 323.2,327C324.28,327.98 325.18,332.03 325.4,334.5C325.62,336.97 325.17,340 324.5,341.8C323.83,343.6 323.15,344.53 321.4,345.3C319.65,346.07 316.27,346.77 314,346.4C311.73,346.03 309.27,344.68 307.8,343.1C306.33,341.52 305.73,339.35 305.2,336.9C304.67,334.45 303.63,329.75 304.6,328.4Z" fill="none" stroke="#f2eefc" stroke-width="8.6" stroke-linejoin="round" opacity="0.75"/><path d="M304.6,328.4C305.57,327.05 308.62,328.77 311,328.8C313.38,328.83 316.87,328.9 318.9,328.6C320.93,328.3 322.12,326.02 323.2,327C324.28,327.98 325.18,332.03 325.4,334.5C325.62,336.97 325.17,340 324.5,341.8C323.83,343.6 323.15,344.53 321.4,345.3C319.65,346.07 316.27,346.77 314,346.4C311.73,346.03 309.27,344.68 307.8,343.1C306.33,341.52 305.73,339.35 305.2,336.9C304.67,334.45 303.63,329.75 304.6,328.4Z" fill="none" stroke="#2038f0" stroke-width="5.0" stroke-linejoin="round"/><path d="M304.6,328.4C305.57,327.05 308.62,328.77 311,328.8C313.38,328.83 316.87,328.9 318.9,328.6C320.93,328.3 322.12,326.02 323.2,327C324.28,327.98 325.18,332.03 325.4,334.5C325.62,336.97 325.17,340 324.5,341.8C323.83,343.6 323.15,344.53 321.4,345.3C319.65,346.07 316.27,346.77 314,346.4C311.73,346.03 309.27,344.68 307.8,343.1C306.33,341.52 305.73,339.35 305.2,336.9C304.67,334.45 303.63,329.75 304.6,328.4Z" fill="none" stroke="#78d8f0" stroke-width="3.2" stroke-linejoin="round"/><path d="M304.6,328.4C305.57,327.05 308.62,328.77 311,328.8C313.38,328.83 316.87,328.9 318.9,328.6C320.93,328.3 322.12,326.02 323.2,327C324.28,327.98 325.18,332.03 325.4,334.5C325.62,336.97 325.17,340 324.5,341.8C323.83,343.6 323.15,344.53 321.4,345.3C319.65,346.07 316.27,346.77 314,346.4C311.73,346.03 309.27,344.68 307.8,343.1C306.33,341.52 305.73,339.35 305.2,336.9C304.67,334.45 303.63,329.75 304.6,328.4Z" fill="none" stroke="#e8f040" stroke-width="1.8" stroke-linejoin="round"/><path d="M304.6,328.4C305.57,327.05 308.62,328.77 311,328.8C313.38,328.83 316.87,328.9 318.9,328.6C320.93,328.3 322.12,326.02 323.2,327C324.28,327.98 325.18,332.03 325.4,334.5C325.62,336.97 325.17,340 324.5,341.8C323.83,343.6 323.15,344.53 321.4,345.3C319.65,346.07 316.27,346.77 314,346.4C311.73,346.03 309.27,344.68 307.8,343.1C306.33,341.52 305.73,339.35 305.2,336.9C304.67,334.45 303.63,329.75 304.6,328.4Z" fill="#e01010"/><path d="M337.4,333.6C338.38,332.23 340.67,332.5 342.3,332.4C343.93,332.3 345.48,332.35 347.2,333C348.92,333.65 351.33,334.93 352.6,336.3C353.87,337.67 354.98,339.62 354.8,341.2C354.62,342.78 352.72,344.42 351.5,345.8C350.28,347.18 348.83,348.38 347.5,349.5C346.17,350.62 345.08,352 343.5,352.5C341.92,353 339.15,353.58 338,352.5C336.85,351.42 336.87,347.98 336.6,346C336.33,344.02 336.27,342.67 336.4,340.6C336.53,338.53 336.42,334.97 337.4,333.6Z" fill="none" stroke="#f2eefc" stroke-width="8.6" stroke-linejoin="round" opacity="0.75"/><path d="M337.4,333.6C338.38,332.23 340.67,332.5 342.3,332.4C343.93,332.3 345.48,332.35 347.2,333C348.92,333.65 351.33,334.93 352.6,336.3C353.87,337.67 354.98,339.62 354.8,341.2C354.62,342.78 352.72,344.42 351.5,345.8C350.28,347.18 348.83,348.38 347.5,349.5C346.17,350.62 345.08,352 343.5,352.5C341.92,353 339.15,353.58 338,352.5C336.85,351.42 336.87,347.98 336.6,346C336.33,344.02 336.27,342.67 336.4,340.6C336.53,338.53 336.42,334.97 337.4,333.6Z" fill="none" stroke="#2038f0" stroke-width="5.0" stroke-linejoin="round"/><path d="M337.4,333.6C338.38,332.23 340.67,332.5 342.3,332.4C343.93,332.3 345.48,332.35 347.2,333C348.92,333.65 351.33,334.93 352.6,336.3C353.87,337.67 354.98,339.62 354.8,341.2C354.62,342.78 352.72,344.42 351.5,345.8C350.28,347.18 348.83,348.38 347.5,349.5C346.17,350.62 345.08,352 343.5,352.5C341.92,353 339.15,353.58 338,352.5C336.85,351.42 336.87,347.98 336.6,346C336.33,344.02 336.27,342.67 336.4,340.6C336.53,338.53 336.42,334.97 337.4,333.6Z" fill="none" stroke="#78d8f0" stroke-width="3.2" stroke-linejoin="round"/><path d="M337.4,333.6C338.38,332.23 340.67,332.5 342.3,332.4C343.93,332.3 345.48,332.35 347.2,333C348.92,333.65 351.33,334.93 352.6,336.3C353.87,337.67 354.98,339.62 354.8,341.2C354.62,342.78 352.72,344.42 351.5,345.8C350.28,347.18 348.83,348.38 347.5,349.5C346.17,350.62 345.08,352 343.5,352.5C341.92,353 339.15,353.58 338,352.5C336.85,351.42 336.87,347.98 336.6,346C336.33,344.02 336.27,342.67 336.4,340.6C336.53,338.53 336.42,334.97 337.4,333.6Z" fill="none" stroke="#e8f040" stroke-width="1.8" stroke-linejoin="round"/><path d="M337.4,333.6C338.38,332.23 340.67,332.5 342.3,332.4C343.93,332.3 345.48,332.35 347.2,333C348.92,333.65 351.33,334.93 352.6,336.3C353.87,337.67 354.98,339.62 354.8,341.2C354.62,342.78 352.72,344.42 351.5,345.8C350.28,347.18 348.83,348.38 347.5,349.5C346.17,350.62 345.08,352 343.5,352.5C341.92,353 339.15,353.58 338,352.5C336.85,351.42 336.87,347.98 336.6,346C336.33,344.02 336.27,342.67 336.4,340.6C336.53,338.53 336.42,334.97 337.4,333.6Z" fill="#e01010"/><ellipse cx="349" cy="346.5" rx="2" ry="1.5" fill="#e8f040"/></g>
</g>
<clipPath id="c20"><rect x="91.3" y="373" width="82.2" height="58.3"/></clipPath>
<g clip-path="url(#c20)">
<rect x="91.3" y="373" width="82.2" height="58.3" fill="#272727"/>
<g filter="url(#bl)">
<g transform="translate(102.3,374) scale(0.89,0.96)"><path d="M-0.9,52 L-0.7,66 L0.7,66 L0.9,52Z" fill="#9a9a9a"/><path d="M6.5,51.2L10.8,55.4M-6.5,51.2L-10.8,55.4" stroke="#a0a0a0" stroke-width="1.5" fill="none"/><use href="#mouse" fill="url(#mg2)"/><use href="#mouse" fill="url(#mh)"/><g clip-path="url(#mclip)"><use href="#mtex" filter="url(#bt)"/></g></g>
<g transform="translate(127,374) scale(1.05,0.98)"><path d="M-0.9,52 L-0.7,66 L0.7,66 L0.9,52Z" fill="#9a9a9a"/><path d="M6.5,51.2L10.8,55.4M-6.5,51.2L-10.8,55.4" stroke="#a0a0a0" stroke-width="1.5" fill="none"/><use href="#mouse" fill="url(#mg)"/><use href="#mouse" fill="url(#mh)"/><g clip-path="url(#mclip)"><use href="#mtex" filter="url(#bt)"/></g></g>
<g transform="translate(156,374) scale(1.05,0.98)"><path d="M-0.9,52 L-0.7,66 L0.7,66 L0.9,52Z" fill="#9a9a9a"/><path d="M6.5,51.2L10.8,55.4M-6.5,51.2L-10.8,55.4" stroke="#a0a0a0" stroke-width="1.5" fill="none"/><use href="#mouse" fill="url(#mg)"/><use href="#mouse" fill="url(#mh)"/><g clip-path="url(#mclip)"><use href="#mtex" filter="url(#bt)"/></g></g>
</g>
<g filter="url(#bh)"><path d="M120.3,396.6C122,395.98 125.33,396.07 128,396C130.67,395.93 134.6,394.37 136.3,396.2C138,398.03 137.98,404.03 138.2,407C138.42,409.97 138.02,411.93 137.6,414C137.18,416.07 137.45,418.1 135.7,419.4C133.95,420.7 129.97,421.8 127.1,421.8C124.23,421.8 120.3,420.7 118.5,419.4C116.7,418.1 116.72,415.85 116.3,414C115.88,412.15 115.75,410.68 116,408.3C116.25,405.92 117.08,401.65 117.8,399.7C118.52,397.75 118.6,397.22 120.3,396.6Z" fill="none" stroke="#f0ecfc" stroke-width="7.5" stroke-linejoin="round" opacity="0.7"/><path d="M120.3,396.6C122,395.98 125.33,396.07 128,396C130.67,395.93 134.6,394.37 136.3,396.2C138,398.03 137.98,404.03 138.2,407C138.42,409.97 138.02,411.93 137.6,414C137.18,416.07 137.45,418.1 135.7,419.4C133.95,420.7 129.97,421.8 127.1,421.8C124.23,421.8 120.3,420.7 118.5,419.4C116.7,418.1 116.72,415.85 116.3,414C115.88,412.15 115.75,410.68 116,408.3C116.25,405.92 117.08,401.65 117.8,399.7C118.52,397.75 118.6,397.22 120.3,396.6Z" fill="none" stroke="#3858f0" stroke-width="4.6" stroke-linejoin="round"/><path d="M120.3,396.6C122,395.98 125.33,396.07 128,396C130.67,395.93 134.6,394.37 136.3,396.2C138,398.03 137.98,404.03 138.2,407C138.42,409.97 138.02,411.93 137.6,414C137.18,416.07 137.45,418.1 135.7,419.4C133.95,420.7 129.97,421.8 127.1,421.8C124.23,421.8 120.3,420.7 118.5,419.4C116.7,418.1 116.72,415.85 116.3,414C115.88,412.15 115.75,410.68 116,408.3C116.25,405.92 117.08,401.65 117.8,399.7C118.52,397.75 118.6,397.22 120.3,396.6Z" fill="none" stroke="#80e0d0" stroke-width="3.2" stroke-linejoin="round"/><path d="M120.3,396.6C122,395.98 125.33,396.07 128,396C130.67,395.93 134.6,394.37 136.3,396.2C138,398.03 137.98,404.03 138.2,407C138.42,409.97 138.02,411.93 137.6,414C137.18,416.07 137.45,418.1 135.7,419.4C133.95,420.7 129.97,421.8 127.1,421.8C124.23,421.8 120.3,420.7 118.5,419.4C116.7,418.1 116.72,415.85 116.3,414C115.88,412.15 115.75,410.68 116,408.3C116.25,405.92 117.08,401.65 117.8,399.7C118.52,397.75 118.6,397.22 120.3,396.6Z" fill="none" stroke="#f0e840" stroke-width="1.8" stroke-linejoin="round"/><path d="M120.3,396.6C122,395.98 125.33,396.07 128,396C130.67,395.93 134.6,394.37 136.3,396.2C138,398.03 137.98,404.03 138.2,407C138.42,409.97 138.02,411.93 137.6,414C137.18,416.07 137.45,418.1 135.7,419.4C133.95,420.7 129.97,421.8 127.1,421.8C124.23,421.8 120.3,420.7 118.5,419.4C116.7,418.1 116.72,415.85 116.3,414C115.88,412.15 115.75,410.68 116,408.3C116.25,405.92 117.08,401.65 117.8,399.7C118.52,397.75 118.6,397.22 120.3,396.6Z" fill="#e41010"/><path d="M148.6,396.2C150.13,395.55 153.53,395.8 156,395.8C158.47,395.8 161.65,394.12 163.4,396.2C165.15,398.28 166.1,405.25 166.5,408.3C166.9,411.35 166.22,412.65 165.8,414.5C165.38,416.35 165.53,418.07 164,419.4C162.47,420.73 159.17,422.4 156.6,422.5C154.03,422.6 150.35,421.33 148.6,420C146.85,418.67 146.62,416.45 146.1,414.5C145.58,412.55 145.38,410.77 145.5,408.3C145.62,405.83 146.28,401.72 146.8,399.7C147.32,397.68 147.07,396.85 148.6,396.2Z" fill="none" stroke="#f0ecfc" stroke-width="7.5" stroke-linejoin="round" opacity="0.7"/><path d="M148.6,396.2C150.13,395.55 153.53,395.8 156,395.8C158.47,395.8 161.65,394.12 163.4,396.2C165.15,398.28 166.1,405.25 166.5,408.3C166.9,411.35 166.22,412.65 165.8,414.5C165.38,416.35 165.53,418.07 164,419.4C162.47,420.73 159.17,422.4 156.6,422.5C154.03,422.6 150.35,421.33 148.6,420C146.85,418.67 146.62,416.45 146.1,414.5C145.58,412.55 145.38,410.77 145.5,408.3C145.62,405.83 146.28,401.72 146.8,399.7C147.32,397.68 147.07,396.85 148.6,396.2Z" fill="none" stroke="#3858f0" stroke-width="4.6" stroke-linejoin="round"/><path d="M148.6,396.2C150.13,395.55 153.53,395.8 156,395.8C158.47,395.8 161.65,394.12 163.4,396.2C165.15,398.28 166.1,405.25 166.5,408.3C166.9,411.35 166.22,412.65 165.8,414.5C165.38,416.35 165.53,418.07 164,419.4C162.47,420.73 159.17,422.4 156.6,422.5C154.03,422.6 150.35,421.33 148.6,420C146.85,418.67 146.62,416.45 146.1,414.5C145.58,412.55 145.38,410.77 145.5,408.3C145.62,405.83 146.28,401.72 146.8,399.7C147.32,397.68 147.07,396.85 148.6,396.2Z" fill="none" stroke="#80e0d0" stroke-width="3.2" stroke-linejoin="round"/><path d="M148.6,396.2C150.13,395.55 153.53,395.8 156,395.8C158.47,395.8 161.65,394.12 163.4,396.2C165.15,398.28 166.1,405.25 166.5,408.3C166.9,411.35 166.22,412.65 165.8,414.5C165.38,416.35 165.53,418.07 164,419.4C162.47,420.73 159.17,422.4 156.6,422.5C154.03,422.6 150.35,421.33 148.6,420C146.85,418.67 146.62,416.45 146.1,414.5C145.58,412.55 145.38,410.77 145.5,408.3C145.62,405.83 146.28,401.72 146.8,399.7C147.32,397.68 147.07,396.85 148.6,396.2Z" fill="none" stroke="#f0e840" stroke-width="1.8" stroke-linejoin="round"/><path d="M148.6,396.2C150.13,395.55 153.53,395.8 156,395.8C158.47,395.8 161.65,394.12 163.4,396.2C165.15,398.28 166.1,405.25 166.5,408.3C166.9,411.35 166.22,412.65 165.8,414.5C165.38,416.35 165.53,418.07 164,419.4C162.47,420.73 159.17,422.4 156.6,422.5C154.03,422.6 150.35,421.33 148.6,420C146.85,418.67 146.62,416.45 146.1,414.5C145.58,412.55 145.38,410.77 145.5,408.3C145.62,405.83 146.28,401.72 146.8,399.7C147.32,397.68 147.07,396.85 148.6,396.2Z" fill="#e41010"/></g>
</g>
<clipPath id="c22"><rect x="280.1" y="373" width="82.2" height="58.3"/></clipPath>
<g clip-path="url(#c22)">
<rect x="280.1" y="373" width="82.2" height="58.3" fill="#272727"/>
<g filter="url(#bl)">
<g transform="translate(290.8,374) scale(0.94,0.89)"><path d="M-0.9,52 L-0.7,66 L0.7,66 L0.9,52Z" fill="#9a9a9a"/><path d="M6.5,51.2L10.8,55.4M-6.5,51.2L-10.8,55.4" stroke="#a0a0a0" stroke-width="1.5" fill="none"/><use href="#mouse" fill="url(#mg2)"/><use href="#mouse" fill="url(#mh)"/><g clip-path="url(#mclip)"><use href="#mtex" filter="url(#bt)"/></g></g>
<g transform="translate(318.9,374) scale(1.07,0.89)"><path d="M-0.9,52 L-0.7,66 L0.7,66 L0.9,52Z" fill="#9a9a9a"/><path d="M6.5,51.2L10.8,55.4M-6.5,51.2L-10.8,55.4" stroke="#a0a0a0" stroke-width="1.5" fill="none"/><use href="#mouse" fill="url(#mg)"/><use href="#mouse" fill="url(#mh)"/><g clip-path="url(#mclip)"><use href="#mtex" filter="url(#bt)"/></g></g>
<g transform="translate(344,374) scale(1.07,0.87)"><path d="M-0.9,52 L-0.7,66 L0.7,66 L0.9,52Z" fill="#9a9a9a"/><path d="M6.5,51.2L10.8,55.4M-6.5,51.2L-10.8,55.4" stroke="#a0a0a0" stroke-width="1.5" fill="none"/><use href="#mouse" fill="url(#mg)"/><use href="#mouse" fill="url(#mh)"/><g clip-path="url(#mclip)"><use href="#mtex" filter="url(#bt)"/></g></g>
</g>
<g filter="url(#bh)"><path d="M311.5,392.6C313.18,391.72 316.83,392.2 319.5,392.2C322.17,392.2 325.68,391.55 327.5,392.6C329.32,393.65 329.88,396.5 330.4,398.5C330.92,400.5 330.87,401.73 330.6,404.6C330.33,407.47 330.75,413.27 328.8,415.7C326.85,418.13 321.98,419 318.9,419.2C315.82,419.4 311.93,419.33 310.3,416.9C308.67,414.47 309.25,407.83 309.1,404.6C308.95,401.37 309,399.5 309.4,397.5C309.8,395.5 309.82,393.48 311.5,392.6Z" fill="none" stroke="#f0ecfc" stroke-width="8" stroke-linejoin="round" opacity="0.7"/><path d="M311.5,392.6C313.18,391.72 316.83,392.2 319.5,392.2C322.17,392.2 325.68,391.55 327.5,392.6C329.32,393.65 329.88,396.5 330.4,398.5C330.92,400.5 330.87,401.73 330.6,404.6C330.33,407.47 330.75,413.27 328.8,415.7C326.85,418.13 321.98,419 318.9,419.2C315.82,419.4 311.93,419.33 310.3,416.9C308.67,414.47 309.25,407.83 309.1,404.6C308.95,401.37 309,399.5 309.4,397.5C309.8,395.5 309.82,393.48 311.5,392.6Z" fill="none" stroke="#1830f0" stroke-width="5.0" stroke-linejoin="round"/><path d="M311.5,392.6C313.18,391.72 316.83,392.2 319.5,392.2C322.17,392.2 325.68,391.55 327.5,392.6C329.32,393.65 329.88,396.5 330.4,398.5C330.92,400.5 330.87,401.73 330.6,404.6C330.33,407.47 330.75,413.27 328.8,415.7C326.85,418.13 321.98,419 318.9,419.2C315.82,419.4 311.93,419.33 310.3,416.9C308.67,414.47 309.25,407.83 309.1,404.6C308.95,401.37 309,399.5 309.4,397.5C309.8,395.5 309.82,393.48 311.5,392.6Z" fill="none" stroke="#70d8e8" stroke-width="2.6" stroke-linejoin="round"/><path d="M311.5,392.6C313.18,391.72 316.83,392.2 319.5,392.2C322.17,392.2 325.68,391.55 327.5,392.6C329.32,393.65 329.88,396.5 330.4,398.5C330.92,400.5 330.87,401.73 330.6,404.6C330.33,407.47 330.75,413.27 328.8,415.7C326.85,418.13 321.98,419 318.9,419.2C315.82,419.4 311.93,419.33 310.3,416.9C308.67,414.47 309.25,407.83 309.1,404.6C308.95,401.37 309,399.5 309.4,397.5C309.8,395.5 309.82,393.48 311.5,392.6Z" fill="#d8f040"/><path d="M313,393.6C313.67,392.63 317,393.2 319,393.2C321,393.2 324.33,392.63 325,393.6C325.67,394.57 324,397.93 323,399C322,400.07 320.33,400 319,400C317.67,400 316,400.07 315,399C314,397.93 312.33,394.57 313,393.6Z" fill="#9cf04a"/><path d="M311,397.4C311.77,395.73 313.68,396.47 315,397C316.32,397.53 317.57,400.63 318.9,400.6C320.23,400.57 321.48,397.33 323,396.8C324.52,396.27 327,396.2 328,397.4C329,398.6 329.07,401.82 329,404C328.93,406.18 328.68,408.77 327.6,410.5C326.52,412.23 324.1,413.68 322.5,414.4C320.9,415.12 319.67,415 318,414.8C316.33,414.6 313.77,414.5 312.5,413.2C311.23,411.9 310.65,409.63 310.4,407C310.15,404.37 310.23,399.07 311,397.4Z" fill="none" stroke="#f0a030" stroke-width="1.4" stroke-linejoin="round"/><path d="M311,397.4C311.77,395.73 313.68,396.47 315,397C316.32,397.53 317.57,400.63 318.9,400.6C320.23,400.57 321.48,397.33 323,396.8C324.52,396.27 327,396.2 328,397.4C329,398.6 329.07,401.82 329,404C328.93,406.18 328.68,408.77 327.6,410.5C326.52,412.23 324.1,413.68 322.5,414.4C320.9,415.12 319.67,415 318,414.8C316.33,414.6 313.77,414.5 312.5,413.2C311.23,411.9 310.65,409.63 310.4,407C310.15,404.37 310.23,399.07 311,397.4Z" fill="#e01010"/><path d="M338.6,393.6C340.65,392.68 344.83,392.18 347.2,393C349.57,393.82 351.67,396.17 352.8,398.5C353.93,400.83 354.32,404.13 354,407C353.68,409.87 352.65,413.97 350.9,415.7C349.15,417.43 346.07,417.6 343.5,417.4C340.93,417.2 337.13,416.63 335.5,414.5C333.87,412.37 333.8,407.27 333.7,404.6C333.6,401.93 334.08,400.33 334.9,398.5C335.72,396.67 336.55,394.52 338.6,393.6Z" fill="none" stroke="#f0ecfc" stroke-width="8" stroke-linejoin="round" opacity="0.7"/><path d="M338.6,393.6C340.65,392.68 344.83,392.18 347.2,393C349.57,393.82 351.67,396.17 352.8,398.5C353.93,400.83 354.32,404.13 354,407C353.68,409.87 352.65,413.97 350.9,415.7C349.15,417.43 346.07,417.6 343.5,417.4C340.93,417.2 337.13,416.63 335.5,414.5C333.87,412.37 333.8,407.27 333.7,404.6C333.6,401.93 334.08,400.33 334.9,398.5C335.72,396.67 336.55,394.52 338.6,393.6Z" fill="none" stroke="#1830f0" stroke-width="5.0" stroke-linejoin="round"/><path d="M338.6,393.6C340.65,392.68 344.83,392.18 347.2,393C349.57,393.82 351.67,396.17 352.8,398.5C353.93,400.83 354.32,404.13 354,407C353.68,409.87 352.65,413.97 350.9,415.7C349.15,417.43 346.07,417.6 343.5,417.4C340.93,417.2 337.13,416.63 335.5,414.5C333.87,412.37 333.8,407.27 333.7,404.6C333.6,401.93 334.08,400.33 334.9,398.5C335.72,396.67 336.55,394.52 338.6,393.6Z" fill="none" stroke="#70d8e8" stroke-width="2.6" stroke-linejoin="round"/><path d="M338.6,393.6C340.65,392.68 344.83,392.18 347.2,393C349.57,393.82 351.67,396.17 352.8,398.5C353.93,400.83 354.32,404.13 354,407C353.68,409.87 352.65,413.97 350.9,415.7C349.15,417.43 346.07,417.6 343.5,417.4C340.93,417.2 337.13,416.63 335.5,414.5C333.87,412.37 333.8,407.27 333.7,404.6C333.6,401.93 334.08,400.33 334.9,398.5C335.72,396.67 336.55,394.52 338.6,393.6Z" fill="#d8f040"/><path d="M339,395C340,394.1 344.17,394.18 346,394.6C347.83,395.02 350,396.6 350,397.5C350,398.4 347.67,399.58 346,400C344.33,400.42 341.17,400.83 340,400C338.83,399.17 338,395.9 339,395Z" fill="#9cf04a"/><path d="M337,402C337.87,400.47 340.5,399.97 342,399.8C343.5,399.63 344.58,401 346,401C347.42,401 349.53,399.13 350.5,399.8C351.47,400.47 351.78,403.22 351.8,405C351.82,406.78 351.5,408.9 350.6,410.5C349.7,412.1 348.07,413.98 346.4,414.6C344.73,415.22 342.2,415.13 340.6,414.2C339,413.27 337.4,411.03 336.8,409C336.2,406.97 336.13,403.53 337,402Z" fill="none" stroke="#f0a030" stroke-width="1.4" stroke-linejoin="round"/><path d="M337,402C337.87,400.47 340.5,399.97 342,399.8C343.5,399.63 344.58,401 346,401C347.42,401 349.53,399.13 350.5,399.8C351.47,400.47 351.78,403.22 351.8,405C351.82,406.78 351.5,408.9 350.6,410.5C349.7,412.1 348.07,413.98 346.4,414.6C344.73,415.22 342.2,415.13 340.6,414.2C339,413.27 337.4,411.03 336.8,409C336.2,406.97 336.13,403.53 337,402Z" fill="#e01010"/></g>
</g>
<rect x="221.2" y="374.2" width="5.8" height="36.6" fill="#000"/>
<rect x="211.1" y="382.8" width="25.6" height="6" fill="#000"/>
<rect x="249.8" y="374.2" width="5.8" height="36.6" fill="#000"/>
<rect x="240.3" y="382.8" width="25.6" height="6" fill="#000"/>
<rect x="388" y="227.3" width="15" height="189" fill="url(#cb)"/>
<path d="M403.2,227.3V416.6M388,416.6H410" stroke="#111" stroke-width="1.4" fill="none"/>
<path d="M403,229.4h7" stroke="#111" stroke-width="1.3"/>
<path d="M403,237.94h5" stroke="#111" stroke-width="1.3"/>
<path d="M403,247.48h5" stroke="#111" stroke-width="1.3"/>
<path d="M403,258.3h5" stroke="#111" stroke-width="1.3"/>
<path d="M403,270.8h5" stroke="#111" stroke-width="1.3"/>
<path d="M403,285.57h5" stroke="#111" stroke-width="1.3"/>
<path d="M403,303.66h5" stroke="#111" stroke-width="1.3"/>
<path d="M403,326.97h5" stroke="#111" stroke-width="1.3"/>
<path d="M403,359.83h5" stroke="#111" stroke-width="1.3"/>
<path d="M403,368.37h5" stroke="#111" stroke-width="1.3"/>
<path d="M403,377.91h5" stroke="#111" stroke-width="1.3"/>
<path d="M403,388.73h5" stroke="#111" stroke-width="1.3"/>
<path d="M403,401.22h5" stroke="#111" stroke-width="1.3"/>
<text transform="translate(409,262.5) scale(0.85,1)" style="font-size:11.5px">7</text>
<text transform="translate(409,275) scale(0.85,1)" style="font-size:11.5px">6</text>
<text transform="translate(409,289.77) scale(0.85,1)" style="font-size:11.5px">5</text>
<text transform="translate(409,307.86) scale(0.85,1)" style="font-size:11.5px">4</text>
<text transform="translate(409,331.17) scale(0.85,1)" style="font-size:11.5px">3</text>
<text transform="translate(409,364.03) scale(0.85,1)" style="font-size:11.5px">2</text>
<text transform="translate(413.2,234.3) scale(0.86,1)" style="font-size:13.2px">1000</text>
<text transform="translate(413.2,421.3) scale(0.86,1)" style="font-size:13.2px">100</text>
</svg></body></html>
